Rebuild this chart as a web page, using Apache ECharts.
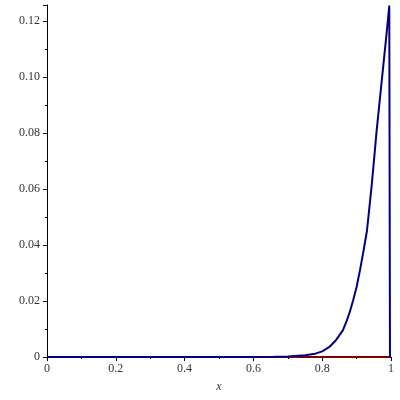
<!DOCTYPE html>
<html>
<head>
<meta charset="utf-8">
<script src="https://cdn.jsdelivr.net/npm/echarts@6/dist/echarts.min.js"></script>
<style>
  html, body { margin: 0; padding: 0; background: #fff; }
  #chart { width: 400px; height: 400px; }
</style>
</head>
<body>
<div id="chart"></div>
<script>
// curve
const xs = [0, 0.1, 0.2, 0.3, 0.4, 0.5, 0.6, 0.66, 0.7, 0.75, 0.78, 0.8, 0.82, 0.84, 0.86, 0.87, 0.88, 0.89, 0.9, 0.91, 0.92, 0.93, 0.937, 0.944, 0.95, 0.958, 0.968, 0.978, 0.988, 0.995, 0.997, 1.0]
const ys = [0, 0, 0, 0, 0, 0, 0, 0.0001, 0.0002, 0.0006, 0.0012, 0.002, 0.0035, 0.006, 0.0095, 0.0125, 0.016, 0.0203, 0.025, 0.0311, 0.0378, 0.045, 0.0532, 0.0615, 0.0695, 0.0805, 0.0925, 0.1045, 0.1165, 0.1255, 0, 0]
// second curve, flat on the x axis
const baseX = [0, 1]
const baseY = [0, 0]

const yMax = 0.1257
const labelFont = 'Liberation Serif'

const chart = echarts.init(document.getElementById('chart'))

const axisCommon = {
  axisLine: { show: true, lineStyle: { color: '#000', width: 1 } },
  axisTick: { show: true, inside: false, length: 4, lineStyle: { color: '#000' } },
  minorTick: { show: true, splitNumber: 2, length: 2, lineStyle: { color: '#000' } },
  splitLine: { show: false },
  axisLabel: { color: '#333', fontFamily: labelFont, fontSize: 12 }
}

chart.setOption({
  animation: false,
  grid: { left: 47, right: 9, top: 5, bottom: 43 },
  xAxis: {
    ...axisCommon,
    type: 'value',
    min: 0,
    max: 1,
    interval: 0.2,
    name: 'x',
    nameLocation: 'middle',
    nameGap: 24,
    nameTextStyle: { fontFamily: labelFont, fontStyle: 'italic', fontSize: 12, color: '#333' },
    axisLabel: { ...axisCommon.axisLabel, margin: 6, formatter: v => String(+v.toFixed(1)) }
  },
  yAxis: {
    ...axisCommon,
    type: 'value',
    min: 0,
    max: yMax,
    interval: 0.02,
    axisLabel: {
      ...axisCommon.axisLabel,
      margin: 7,
      showMaxLabel: false,
      formatter: v => (v === 0 ? '0' : v.toFixed(2))
    }
  },
  series: [
    {
      type: 'line',
      data: baseX.map((x, i) => [x, baseY[i]]),
      showSymbol: false,
      lineStyle: { color: '#800000', width: 2 },
      z: 2
    },
    {
      type: 'line',
      data: xs.map((x, i) => [x, ys[i]]),
      showSymbol: false,
      lineStyle: { color: '#000080', width: 2 },
      z: 3
    }
  ]
})
</script>
</body>
</html>
